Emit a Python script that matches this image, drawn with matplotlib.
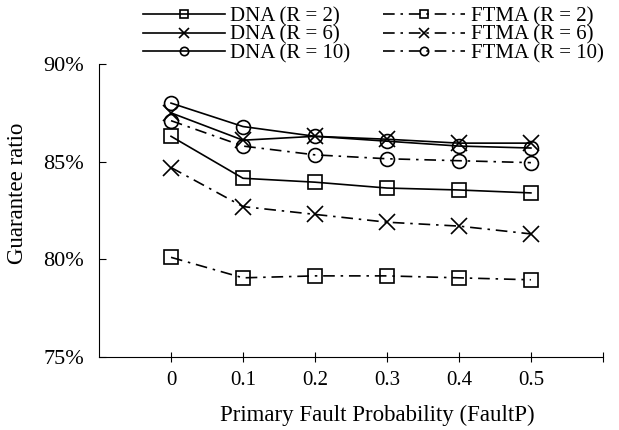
import matplotlib
matplotlib.use("Agg")
import matplotlib.pyplot as plt
from matplotlib.ticker import FuncFormatter

plt.rcParams['font.family'] = ['Liberation Serif', 'DejaVu Serif']

fault_p = [0, 0.1, 0.2, 0.3, 0.4, 0.5]
x_tick_labels = ['0', '0.1', '0.2', '0.3', '0.4', '0.5']

dna_r2 = [86.3, 84.15, 83.95, 83.65, 83.55, 83.4]
dna_r6 = [87.5, 86.1, 86.3, 86.15, 85.95, 85.95]
dna_r10 = [88.0, 86.8, 86.3, 86.05, 85.8, 85.7]
ftma_r2 = [80.1, 79.05, 79.15, 79.15, 79.05, 78.95]
ftma_r6 = [84.7, 82.7, 82.3, 81.9, 81.7, 81.3]
ftma_r10 = [87.1, 85.8, 85.35, 85.15, 85.05, 84.95]

series = [
    ('DNA (R = 2)', dna_r2, 's', 'solid'),
    ('DNA (R = 6)', dna_r6, 'x', 'solid'),
    ('DNA (R = 10)', dna_r10, 'o', 'solid'),
    ('FTMA (R = 2)', ftma_r2, 's', 'dashdot'),
    ('FTMA (R = 6)', ftma_r6, 'x', 'dashdot'),
    ('FTMA (R = 10)', ftma_r10, 'o', 'dashdot'),
]

fig = plt.figure(figsize=(6.19, 4.30), dpi=100)
ax = fig.add_axes([0.160, 0.170, 0.814, 0.681])

for label, vals, mk, ls in series:
    linestyle = '-' if ls == 'solid' else (0, (7, 3.5, 1.5, 3.5))
    ax.plot(fault_p, vals, color='black', linestyle=linestyle, linewidth=1.2,
            marker=mk, markersize=10 if mk != 'x' else 11, markerfacecolor='none',
            markeredgecolor='black', markeredgewidth=1.2, label=label)

ax.set_xlim(-0.1, 0.6)
ax.set_ylim(75, 90)
ax.set_xticks(fault_p + [0.6])
ax.set_xticklabels(x_tick_labels + [''])
ax.set_yticks([75, 80, 85, 90])
ax.yaxis.set_major_formatter(FuncFormatter(lambda v, p: f'{int(v)}%'))
ax.spines['top'].set_visible(False)
ax.spines['right'].set_visible(False)
ax.tick_params(axis='x', direction='inout', length=7, width=0.8, labelsize=15, pad=7)
ax.tick_params(axis='y', direction='in', length=5, width=0.8, labelsize=16, pad=11)

ax.set_xlabel('Primary Fault Probability (FaultP)', fontsize=16.5)
ax.xaxis.set_label_coords(0.552, -0.163)
ax.set_ylabel('Guarantee ratio', fontsize=16.5)
ax.yaxis.set_label_coords(-0.140, 0.56)

leg = ax.legend(loc='upper left', bbox_to_anchor=(143 / 619, 1 - 7 / 430),
                bbox_transform=fig.transFigure, ncol=2, frameon=False,
                fontsize=15, handlelength=3.94, handletextpad=0.25, columnspacing=1.58,
                labelspacing=-0.06, borderaxespad=0.0, borderpad=0.0, markerscale=0.6)

fig.savefig('out.png', dpi=100)
